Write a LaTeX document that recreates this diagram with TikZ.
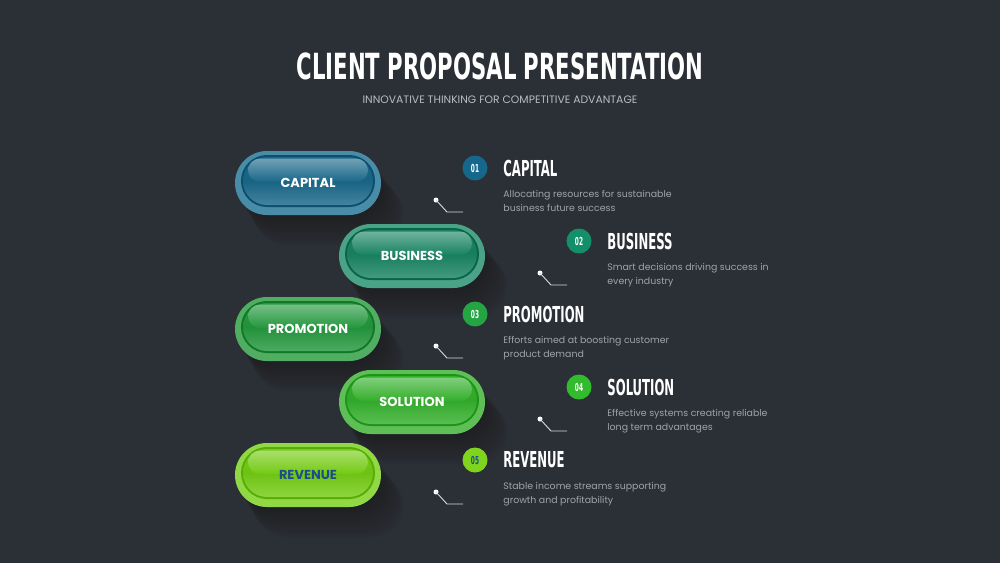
\documentclass[tikz,border=0pt]{standalone}
\usepackage{fontspec}
\setmainfont{Poppins}
\newfontfamily\headfont{DejaVu Sans Condensed Bold}
\usetikzlibrary{positioning,calc}
\definecolor{bg}{RGB}{43,47,54}
\definecolor{descgray}{RGB}{160,164,170}
\definecolor{subgray}{RGB}{185,188,193}
\definecolor{tickgray}{RGB}{215,218,222}
\definecolor{revtext}{RGB}{28,77,140}
% pill colour sets
\definecolor{capBase}{RGB}{26,104,138}\definecolor{capRim}{RGB}{72,140,168}\definecolor{capDark}{RGB}{12,78,110}
\definecolor{busBase}{RGB}{25,132,98}\definecolor{busRim}{RGB}{74,163,134}\definecolor{busDark}{RGB}{10,100,70}
\definecolor{proBase}{RGB}{36,152,62}\definecolor{proRim}{RGB}{80,173,97}\definecolor{proDark}{RGB}{16,120,38}
\definecolor{solBase}{RGB}{52,176,44}\definecolor{solRim}{RGB}{94,191,86}\definecolor{solDark}{RGB}{28,148,24}
\definecolor{revBase}{RGB}{116,204,20}\definecolor{revRim}{RGB}{144,216,68}\definecolor{revDark}{RGB}{88,172,6}
% number circles
\definecolor{capNum}{RGB}{21,104,140}
\definecolor{busNum}{RGB}{19,144,106}
\definecolor{proNum}{RGB}{37,164,68}
\definecolor{solNum}{RGB}{50,187,44}
\definecolor{revNum}{RGB}{127,212,30}
\newcommand{\hd}[3][0.59]{\scalebox{#1}[1]{\fontsize{#2}{#2}\selectfont\headfont #3}}
% glossy pill: name, centre, label, colour set, text colour
\newcommand{\pill}[5]{%
  \begin{scope}[shift={#2}]
    \foreach \k in {1,...,12}
      \fill[black, opacity=0.025, rounded corners=32pt] (-72+1.5*\k,-30+2.5*\k) rectangle (72+2*\k,32+2.5*\k);
    \fill[#4Rim, rounded corners=32pt] (-73,-32) rectangle (73,32);
    \fill[#4Dark, rounded corners=26pt] (-67,-28) rectangle (67,24);
    \shade[top color=#4Base, bottom color=#4Base!82!white, middle color=#4Base!95!black, rounded corners=24pt] (-65,-26) rectangle (65,22);
    \shade[top color=#4Base!55!white, bottom color=#4Base, opacity=0.85, rounded corners=12pt] (-60,-24.5) rectangle (60,-1);
  \end{scope}
  \node[lbl, text=#5] (#1) at #2 {#3};
}
\tikzset{
  num/.style={circle, minimum size=25pt, inner sep=0pt, text=white},
  head/.style={inner sep=0pt, anchor=west, text=white},
  desc/.style={inner sep=0pt, align=left, text=descgray, font=\fontsize{9.4}{14}\selectfont},
  tick/.style={draw=tickgray, line width=0.9pt},
  dot/.style={circle, fill=white, inner sep=0pt, minimum size=5pt},
  lbl/.style={font=\fontsize{13}{13}\selectfont\bfseries, inner sep=0pt}
}

\begin{document}
\begin{tikzpicture}[x=1pt, y=-1pt]
\useasboundingbox (0,0) rectangle (1000,563);
\fill[bg] (0,0) rectangle (1000,563);

% title
\node (title) at (500,66) {\hd[0.655]{36}{\textcolor{white}{CLIENT PROPOSAL PRESENTATION}}};
\node[text=subgray, font=\fontsize{10.8}{10.8}\selectfont] (sub) at (500,100) {INNOVATIVE THINKING FOR COMPETITIVE ADVANTAGE};

% pills
\pill{capital}{(308,183)}{CAPITAL}{cap}{white}
\pill{business}{(412,256)}{BUSINESS}{bus}{white}
\pill{promotion}{(308,329)}{PROMOTION}{pro}{white}
\pill{solution}{(412,402)}{SOLUTION}{sol}{white}
\pill{revenue}{(308,475)}{REVENUE}{rev}{revtext}

% 01
\node[num, fill=capNum] (n1) at (475,168) {\hd{11}{01}};
\node[head, right=15.5pt of n1] (h1) {\hd{22}{CAPITAL}};
\node[desc, below right=14pt and 0pt of h1.south west] (t1) {Allocating resources for sustainable\\business future success};
\node[dot] (d1) at ($(n1)+(-39,32)$) {};
\coordinate (e1) at ($(n1)+(-28,44)$);
\coordinate (f1) at ($(n1)+(-12,44)$);
\draw[tick] (d1.center) -- (e1) -- (f1);

% 02
\node[num, fill=busNum] (n2) at (579,241) {\hd{11}{02}};
\node[head, right=15.5pt of n2] (h2) {\hd{22}{BUSINESS}};
\node[desc, below right=14pt and 0pt of h2.south west] (t2) {Smart decisions driving success in\\every industry};
\node[dot] (d2) at ($(n2)+(-39,32)$) {};
\coordinate (e2) at ($(n2)+(-28,44)$);
\coordinate (f2) at ($(n2)+(-12,44)$);
\draw[tick] (d2.center) -- (e2) -- (f2);

% 03
\node[num, fill=proNum] (n3) at (475,314) {\hd{11}{03}};
\node[head, right=15.5pt of n3] (h3) {\hd{22}{PROMOTION}};
\node[desc, below right=14pt and 0pt of h3.south west] (t3) {Efforts aimed at boosting customer\\product demand};
\node[dot] (d3) at ($(n3)+(-39,32)$) {};
\coordinate (e3) at ($(n3)+(-28,44)$);
\coordinate (f3) at ($(n3)+(-12,44)$);
\draw[tick] (d3.center) -- (e3) -- (f3);

% 04
\node[num, fill=solNum] (n4) at (579,387) {\hd{11}{04}};
\node[head, right=15.5pt of n4] (h4) {\hd{22}{SOLUTION}};
\node[desc, below right=14pt and 0pt of h4.south west] (t4) {Effective systems creating reliable\\long term advantages};
\node[dot] (d4) at ($(n4)+(-39,32)$) {};
\coordinate (e4) at ($(n4)+(-28,44)$);
\coordinate (f4) at ($(n4)+(-12,44)$);
\draw[tick] (d4.center) -- (e4) -- (f4);

% 05
\node[num, fill=revNum, text=revtext] (n5) at (475,460) {\hd{11}{05}};
\node[head, right=15.5pt of n5] (h5) {\hd{22}{REVENUE}};
\node[desc, below right=14pt and 0pt of h5.south west] (t5) {Stable income streams supporting\\growth and profitability};
\node[dot] (d5) at ($(n5)+(-39,32)$) {};
\coordinate (e5) at ($(n5)+(-28,44)$);
\coordinate (f5) at ($(n5)+(-12,44)$);
\draw[tick] (d5.center) -- (e5) -- (f5);
\end{tikzpicture}
\end{document}
